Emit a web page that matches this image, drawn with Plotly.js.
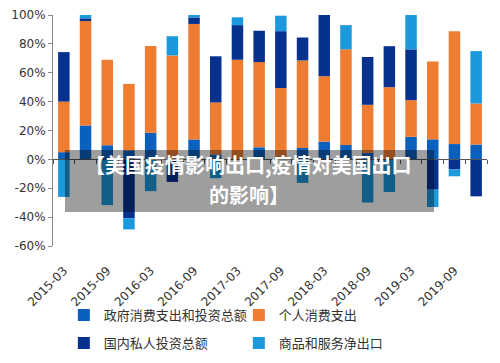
<!DOCTYPE html>
<html>
<head>
<meta charset="utf-8">
<script src="https://cdn.plot.ly/plotly-3.0.1.min.js"></script>
<style>html,body{margin:0;padding:0;background:#fff;}#chart{width:500px;height:363px;}</style>
</head>
<body>
<div id="chart"></div>
<script>
const categories = ['2015-03','2015-06','2015-09','2015-12','2016-03','2016-06','2016-09','2016-12','2017-03','2017-06','2017-09','2017-12','2018-03','2018-06','2018-09','2018-12','2019-03','2019-06','2019-09','2019-12'];
const xTickLabels = ['2015-03','2015-09','2016-03','2016-09','2017-03','2017-09','2018-03','2018-09','2019-03','2019-09'];
const govSpending = [5, 23.5, 9.8, 6.3, 18.5, 0, 13.8, 3.4, 0, 8.4, 0, 7.9, 12.3, 10, 4.5, 0, 15.6, 13.9, 10.6, 10.3];
const personalConsumption = [35, 72.3, 59.2, 46, 60, 72, 80, 36, 69, 59, 49.4, 60.6, 45.3, 66.2, 33.3, 50, 25.4, 53.9, 78.2, 28.4];
const privateInvestment = [34.3, 1.9, 0, -40.8, 0, -15.6, 4.5, 32, 24, 21.7, 39.4, 15.9, 42.4, 0, 33.1, 28.4, 35.2, -21, -7, -25.6];
const netExports = [-26, 2.3, -31.7, -7.7, -22, 13.3, 1.7, -13, 5.4, 0, 10.7, -16.3, 0, 16.8, -29.9, -22.6, 23.8, -12, -4.7, 36.3];
const seriesNames = ['政府消费支出和投资总额','个人消费支出','国内私人投资总额','商品和服务净出口'];
const yTickVals = [-60,-40,-20,0,20,40,60,80,100];
const yTickText = ['-60%','-40%','-20%','0%','20%','40%','60%','80%','100%'];
const bannerLines = ['【美国疫情影响出口,疫情对美国出口', '的影响】'];

const colors = ['#0b5fbd','#ee7d31','#06318f','#1c98dc'];
const seriesValues = [govSpending, personalConsumption, privateInvestment, netExports];
const legendOf = ['legend','legend','legend2','legend2'];

const traces = seriesValues.map((vals, i) => ({
  type: 'bar',
  name: seriesNames[i],
  x: categories,
  y: vals,
  legend: legendOf[i],
  marker: {color: colors[i]},
  hoverinfo: 'x+y+name'
}));
// helper trace for the zero-line axis with boundary ticks
traces.push({type:'scatter', x:[0], y:[null], xaxis:'x2', yaxis:'y', showlegend:false, hoverinfo:'skip', mode:'markers'});

const legendBase = {
  orientation: 'h', x: 0.025, xanchor: 'left', yanchor: 'middle',
  entrywidth: 130, entrywidthmode: 'pixels',
  font: {family: '"Noto Sans CJK SC", sans-serif', size: 13, color: '#333'},
  traceorder: 'normal', itemclick: false, bgcolor: 'rgba(0,0,0,0)'
};

const layout = {
  width: 500, height: 363,
  margin: {l: 53, r: 13, t: 15, b: 117, autoexpand: false},
  paper_bgcolor: '#fff', plot_bgcolor: '#fff',
  barmode: 'relative',
  bargap: 0.47,
  font: {family: '"DejaVu Sans", "Noto Sans CJK SC", sans-serif', size: 12, color: '#333'},
  xaxis: {
    type: 'category',
    tickvals: xTickLabels,
    ticktext: xTickLabels,
    tickangle: -45,
    ticks: 'outside', ticklen: 12, tickcolor: 'rgba(0,0,0,0)',
    showline: false, showgrid: false, zeroline: false,
    tickfont: {family: '"DejaVu Sans", sans-serif', size: 12, color: '#333'},
    range: [-0.5, 19.5]
  },
  xaxis2: {
    overlaying: 'x', anchor: 'free', position: 0.375,
    type: 'linear', range: [-0.5, 19.5],
    tickmode: 'linear', tick0: -0.5, dtick: 1,
    ticks: 'outside', ticklen: 4, tickcolor: '#555', tickwidth: 1,
    showticklabels: false, showline: true, linecolor: '#555', linewidth: 1,
    showgrid: false, zeroline: false
  },
  yaxis: {
    range: [-60, 100],
    tickvals: yTickVals, ticktext: yTickText,
    ticks: 'outside', ticklen: 4, tickcolor: '#888',
    showline: true, linecolor: '#888', linewidth: 1,
    showgrid: false, zeroline: false,
    tickfont: {family: '"DejaVu Sans", sans-serif', size: 12, color: '#333'}
  },
  showlegend: true,
  legend: Object.assign({}, legendBase, {y: -0.299}),
  legend2: Object.assign({}, legendBase, {y: -0.42}),
  shapes: [{
    type: 'rect', xref: 'paper', yref: 'paper',
    x0: 0.0276, x1: 0.878, y0: 0.147, y1: 0.4156,
    fillcolor: 'rgba(0,0,0,0.38)', line: {width: 0}, layer: 'above'
  }],
  annotations: bannerLines.map((t, i) => ({
    xref: 'paper', yref: 'paper', x: 0.4516, y: i === 0 ? 0.351 : 0.224,
    xanchor: 'center', yanchor: 'middle', showarrow: false, borderpad: 0,
    text: t, align: 'center',
    font: {family: '"Noto Sans CJK SC", sans-serif', size: 20, color: '#fff', weight: 'bold'}
  }))
};

Plotly.newPlot('chart', traces, layout, {displayModeBar: false, staticPlot: true});
</script>
</body>
</html>
